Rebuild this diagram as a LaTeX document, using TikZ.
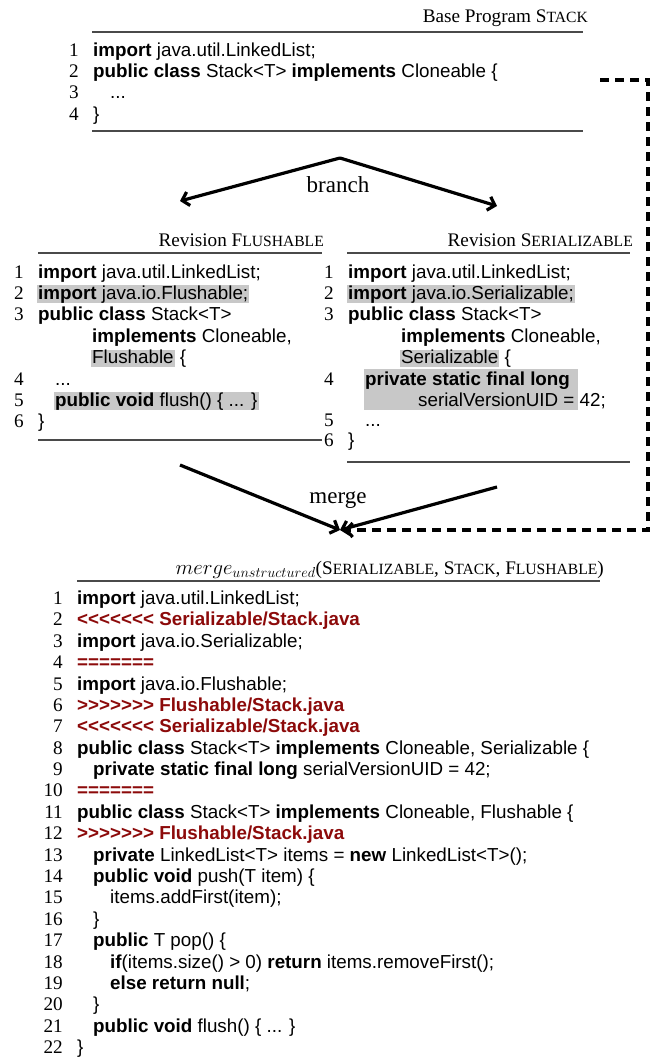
\documentclass[tikz,border=0pt]{standalone}
\usepackage{fontspec}
\setmainfont{Liberation Serif}
\setsansfont{Liberation Sans}[Ligatures=TeXOff]
\usetikzlibrary{arrows.meta}

\definecolor{hlgray}{HTML}{C8C8C8}
\definecolor{conflictred}{HTML}{8C0A0A}
\definecolor{rulegray}{HTML}{4A4A4A}

% faked small capitals: first letter full size, rest smaller capitals
\newcommand\fsc[2]{#1{\fontsize{15.6}{16}\selectfont #2}}
% grey highlight of changed code
\newcommand\hlt[1]{{\setlength\fboxsep{0pt}\colorbox{hlgray}{\rule[-3.5pt]{0pt}{17.5pt}\hspace{1pt}#1\hspace{1pt}}}}
\newcommand\kw[1]{\textbf{#1}}
% conflict markers
\newcommand\cf[1]{\textcolor{conflictred}{\textbf{#1}}}
% numbered code line: name, number right edge, code x, line centre y, number, text
\newcommand\codeln[6]{\node[lnum] (#1n) at (#2,#4+6) {#5};\node[code] (#1) at (#3,#4+6) {#6};}
% continuation line without number: name, code x, line centre y, text
\newcommand\codecont[4]{\node[code] (#1) at (#2,#3+6) {#4};}

\begin{document}
\begin{tikzpicture}[x=1pt,y=-1pt,
  code/.style={anchor=base west,inner sep=0pt,font=\sffamily\fontsize{18.8}{21.4}\selectfont},
  lnum/.style={anchor=base east,inner sep=0pt,font=\rmfamily\fontsize{19.2}{21.4}\selectfont},
  title/.style={anchor=base east,inner sep=0pt,font=\rmfamily\fontsize{19.2}{21.4}\selectfont},
  caption/.style={inner sep=0pt,font=\rmfamily\fontsize{23}{26}\selectfont},
  rule/.style={draw=rulegray,line width=1.2pt},
  flow/.style={line width=3.2pt,-{Straight Barb[length=6.5pt,width=14pt]}},
  flowdash/.style={flow,dash pattern=on 9pt off 6pt}]
\useasboundingbox (0,0) rectangle (656,1063);

% ---------------- base program ----------------
\node[title] (basettl) at (588,22) {Base Program \fsc{S}{TACK}};
\draw[rule] (92,32) -- (583,32);
\codeln{b1}{79}{93}{50}{1}{\kw{import} java.util.LinkedList;}
\codeln{b2}{79}{93}{71.4}{2}{\kw{public class} Stack<T> \kw{implements} Cloneable \{}
\codeln{b3}{79}{110}{92.8}{3}{...}
\codeln{b4}{79}{93}{114.2}{4}{\}}
\draw[rule] (92,131) -- (583,131);

% ---------------- branch ----------------
\coordinate (brtop) at (340,158);
\coordinate (brleft) at (180,201);
\coordinate (brright) at (497,206);
\draw[flow] (brtop) -- (brleft);
\draw[flow] (brtop) -- (brright);
\node[caption] (branchlbl) at (338,185) {branch};

% ---------------- revision Flushable ----------------
\node[title] (flttl) at (324,246) {Revision \fsc{F}{LUSHABLE}};
\draw[rule] (38,253) -- (322,253);
\codeln{f1}{24}{38}{272}{1}{\kw{import} java.util.LinkedList;}
\codeln{f2}{24}{37}{293.4}{2}{\hlt{\kw{import} java.io.Flushable;}}
\codeln{f3}{24}{38}{314.8}{3}{\kw{public class} Stack<T>}
\codecont{f3b}{92}{336.2}{\kw{implements} Cloneable,}
\codecont{f3c}{91}{357.6}{\hlt{Flushable} \{}
\codeln{f4}{24}{55}{379}{4}{...}
\codeln{f5}{24}{54}{400.4}{5}{\hlt{\kw{public void} flush() \{ ... \}}}
\codeln{f6}{24}{38}{421.8}{6}{\}}
\draw[rule] (38,440) -- (322,440);

% ---------------- revision Serializable ----------------
\node[title] (sttl) at (633,246) {Revision \fsc{S}{ERIALIZABLE}};
\draw[rule] (347,253) -- (630,253);
\fill[hlgray] (364,369) rectangle (578,410);
\codeln{s1}{334}{348}{272}{1}{\kw{import} java.util.LinkedList;}
\codeln{s2}{334}{347}{293.4}{2}{\hlt{\kw{import} java.io.Serializable;}}
\codeln{s3}{334}{348}{314.8}{3}{\kw{public class} Stack<T>}
\codecont{s3b}{401}{336.2}{\kw{implements} Cloneable,}
\codecont{s3c}{400}{357.6}{\hlt{Serializable} \{}
\codeln{s4}{334}{365}{379}{4}{\kw{private static final long}}
\codecont{s4b}{418}{400.4}{serialVersionUID = 42;}
\codeln{s5}{334}{365}{420.8}{5}{...}
\codeln{s6}{334}{348}{440.5}{6}{\}}
\draw[rule] (347,462) -- (630,462);

% ---------------- merge ----------------
\coordinate (mgleft) at (180,465);
\coordinate (mgright) at (497,487);
\coordinate (mgtip) at (340,530);
\coordinate (dtip) at (344,530);
\coordinate (dstart) at (600,80);
\coordinate (dcorner1) at (648,80);
\coordinate (dcorner2) at (648,530);
\draw[flow] (mgleft) -- (mgtip);
\draw[flow] (mgright) -- (mgtip);
\draw[flowdash] (dstart) -- (dcorner1) -- (dcorner2) -- (dtip);
\node[caption] (mergelbl) at (338,500) {merge};

% ---------------- unstructured merge result ----------------
\node[title] (mttl) at (604,574) {$merge_{unstructured}$(\fsc{S}{ERIALIZABLE}, \fsc{S}{TACK}, \fsc{F}{LUSHABLE})};
\draw[rule] (77,581) -- (600,581);
\codeln{m1}{63}{77}{598.5}{1}{\kw{import} java.util.LinkedList;}
\codeln{m2}{63}{77}{619.9}{2}{\cf{<<<<<<< Serializable/Stack.java}}
\codeln{m3}{63}{77}{641.3}{3}{\kw{import} java.io.Serializable;}
\codeln{m4}{63}{77}{662.6}{4}{\cf{=======}}
\codeln{m5}{63}{77}{684.0}{5}{\kw{import} java.io.Flushable;}
\codeln{m6}{63}{77}{705.4}{6}{\cf{>>>>>>> Flushable/Stack.java}}
\codeln{m7}{63}{77}{726.8}{7}{\cf{<<<<<<< Serializable/Stack.java}}
\codeln{m8}{63}{77}{748.2}{8}{\kw{public class} Stack<T> \kw{implements} Cloneable, Serializable \{}
\codeln{m9}{63}{93}{769.5}{9}{\kw{private static final long} serialVersionUID = 42;}
\codeln{m10}{63}{77}{790.9}{10}{\cf{=======}}
\codeln{m11}{63}{77}{812.3}{11}{\kw{public class} Stack<T> \kw{implements} Cloneable, Flushable \{}
\codeln{m12}{63}{77}{833.7}{12}{\cf{>>>>>>> Flushable/Stack.java}}
\codeln{m13}{63}{93}{855.1}{13}{\kw{private} LinkedList<T> items = \kw{new} LinkedList<T>();}
\codeln{m14}{63}{93}{876.4}{14}{\kw{public void} push(T item) \{}
\codeln{m15}{63}{110}{897.8}{15}{items.addFirst(item);}
\codeln{m16}{63}{93}{919.2}{16}{\}}
\codeln{m17}{63}{93}{940.6}{17}{\kw{public} T pop() \{}
\codeln{m18}{63}{110}{962.0}{18}{\kw{if}(items.size() > 0) \kw{return} items.removeFirst();}
\codeln{m19}{63}{110}{983.3}{19}{\kw{else return null};}
\codeln{m20}{63}{93}{1004.7}{20}{\}}
\codeln{m21}{63}{93}{1026.1}{21}{\kw{public void} flush() \{ ... \}}
\codeln{m22}{63}{77}{1047.5}{22}{\}}
\end{tikzpicture}
\end{document}
